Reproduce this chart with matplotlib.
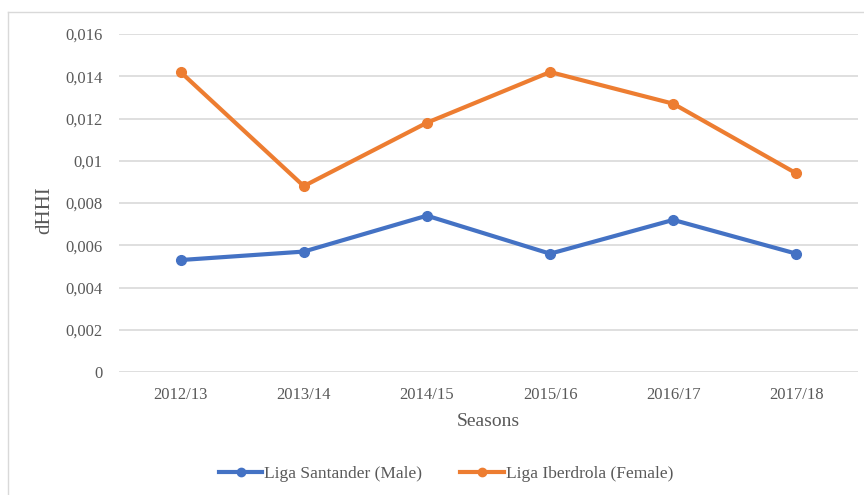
import matplotlib
matplotlib.use("Agg")
import matplotlib.pyplot as plt
from matplotlib.lines import Line2D

seasons = ["2012/13", "2013/14", "2014/15", "2015/16", "2016/17", "2017/18"]
male = [0.0053, 0.0057, 0.0074, 0.0056, 0.0072, 0.0056]
female = [0.0142, 0.0088, 0.0118, 0.0142, 0.0127, 0.0094]
yticks = [0, 0.002, 0.004, 0.006, 0.008, 0.01, 0.012, 0.014, 0.016]
ytick_labels = ["0", "0,002", "0,004", "0,006", "0,008", "0,01", "0,012", "0,014", "0,016"]

plt.rcParams['font.family'] = ['Liberation Serif', 'DejaVu Serif']
txt = '#595959'
blue = '#4472C4'
orange = '#ED7D31'

fig = plt.figure(figsize=(8.64, 4.95), dpi=100)
ax = fig.add_axes([119/864, 1-372/495, (858-119)/864, (372-34)/495])

x = list(range(len(seasons)))
ax.plot(x, male, color=blue, lw=3, marker='o', ms=7, label='Liga Santander (Male)', solid_capstyle='round')
ax.plot(x, female, color=orange, lw=3, marker='o', ms=7, label='Liga Iberdrola (Female)', solid_capstyle='round')

ax.set_xlim(-0.5, len(seasons)-0.5)
ax.set_ylim(0, 0.016)
ax.set_yticks(yticks)
ax.set_yticklabels(ytick_labels, color=txt, fontsize=12)
ax.set_xticks(x)
ax.set_xticklabels(seasons, color=txt, fontsize=12)
ax.tick_params(length=0)
ax.tick_params(axis='x', pad=11)
ax.tick_params(axis='y', pad=12)
ax.grid(axis='y', color='#d9d9d9', lw=1.2)
ax.set_axisbelow(True)
for s in ax.spines.values():
    s.set_visible(False)

ax.set_xlabel('Seasons', color=txt, fontsize=14, labelpad=7)
fig.text(45/864, 1-210/495, 'dHHI', rotation=90, color=txt, fontsize=15, ha='center', va='center')

handles = [Line2D([0], [0], color=blue, lw=3, marker='o', ms=6),
           Line2D([0], [0], color=orange, lw=3, marker='o', ms=6)]
fig.legend(handles, ['Liga Santander (Male)', 'Liga Iberdrola (Female)'],
           loc='center', bbox_to_anchor=(446/864, 1-474/495), ncol=2, frameon=False,
           fontsize=12.5, labelcolor=txt, handlelength=2.5, handletextpad=0.1, columnspacing=2.2)

# chart area border
fig.add_artist(Line2D([8/864, 1], [1-12/495, 1-12/495], color='#d9d9d9', lw=1, transform=fig.transFigure))
fig.add_artist(Line2D([8/864, 8/864], [0, 1-12/495], color='#d9d9d9', lw=1, transform=fig.transFigure))

fig.savefig('out.png', dpi=100)
